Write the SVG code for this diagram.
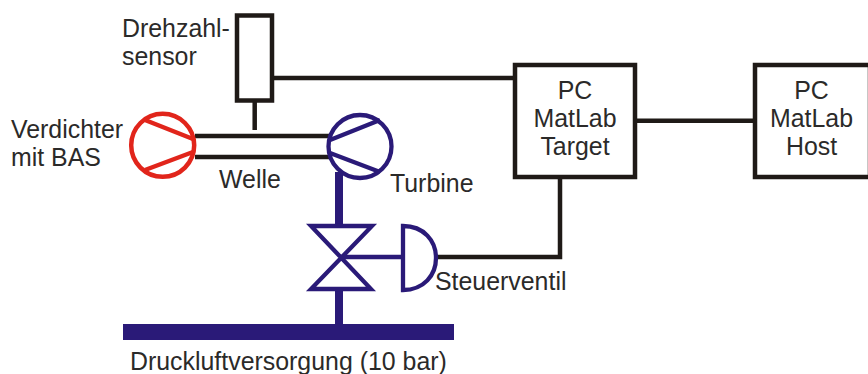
<svg xmlns="http://www.w3.org/2000/svg" width="868" height="374" viewBox="0 0 868 374">
<style>
text{font-family:"Liberation Sans",Arial,sans-serif;font-size:24.9px;fill:#2b2a29}
.m{text-anchor:middle}
.k{fill:none;stroke:#1f1a17;stroke-width:4.500}
.b{fill:none;stroke:#2a1a78;stroke-width:4.300}
.r{fill:none;stroke:#e1251b;stroke-width:4.500}
.p{fill:none;stroke:#2a1a78;stroke-width:8}
</style>
<rect width="868" height="374" fill="#fff"/>
<g id="connectors">
<path class="k" d="M195 136H330M195 157H330"/>
<path class="k" d="M254.700 101V130"/>
<path class="k" d="M274 78H514"/>
<path class="k" d="M637 120.700H754"/>
<path class="k" d="M437 257H560V179"/>
<path class="p" d="M339 172V226M339 289V325"/>
<path class="b" d="M340 257H403"/>
</g>
<g id="sensor"><rect class="k" x="237" y="15.500" width="35" height="85"/>
<text x="122" y="37">Drehzahl-</text><text x="122" y="65">sensor</text></g>
<g id="verdichter"><circle class="r" cx="162.700" cy="145.300" r="31.500"/><path class="r" d="M145 120L193 139M145 170L193 152"/>
<text x="11" y="138">Verdichter</text><text x="11" y="166">mit BAS</text></g>
<g id="welle"><text x="219" y="188">Welle</text></g>
<g id="turbine"><circle class="b" cx="360" cy="146.500" r="31.500"/><path class="b" d="M330 140L380 120M330 153L380 172"/>
<text x="390" y="192">Turbine</text></g>
<g id="steuerventil"><path class="b" d="M311 226H372L311 289H371Z"/><path class="b" d="M403 226V290C424 290 436 275 436 258C436 241 424 226 403 226Z"/>
<text x="435" y="290">Steuerventil</text></g>
<g id="versorgung"><rect x="123" y="324" width="331" height="16" fill="#2a1a78"/>
<text x="130" y="370">Druckluftversorgung (10 bar)</text></g>
<g id="target"><rect class="k" x="515" y="65" width="120" height="112"/>
<text class="m" x="575" y="99">PC</text><text class="m" x="575" y="127">MatLab</text><text class="m" x="575" y="155">Target</text></g>
<g id="host"><rect class="k" x="755" y="65" width="115" height="112"/>
<text class="m" x="811.500" y="99">PC</text><text class="m" x="811.500" y="127">MatLab</text><text class="m" x="811.500" y="155">Host</text></g>
</svg>
